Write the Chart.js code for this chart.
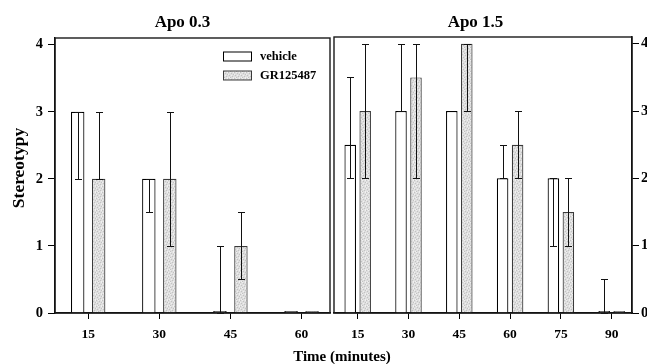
<!DOCTYPE html>
<html>
<head>
<meta charset="utf-8">
<script src="https://cdn.jsdelivr.net/npm/chart.js@4.4.1/dist/chart.umd.min.js"></script>
<style>
    html, body { margin: 0; padding: 0; background: #fff; }
    #wrap { position: relative; width: 647px; height: 364px; overflow: hidden; }
    #wrap canvas { position: absolute; left: 0; top: 0; }
</style>
</head>
<body>
<div id="wrap">
    <canvas id="apoLow" width="647" height="364"></canvas>
    <canvas id="apoHigh" width="647" height="364"></canvas>
</div>
<script>
// DATA
const SERIES = ['vehicle', 'GR125487'];
const Y_TICKS = [0, 1, 2, 3, 4];

// Apo 0.3 panel
const TIMES_LOW = [15, 30, 45, 60];
const lowVehicle      = [3, 2, 0, 0];
const lowVehicleErrLo = [2, 1.5, 0, 0];
const lowVehicleErrHi = [3, 2, 1, 0];
const lowGr      = [2, 2, 1, 0];
const lowGrErrLo = [2, 1, 0.5, 0];
const lowGrErrHi = [3, 3, 1.5, 0];

// Apo 1.5 panel
const TIMES_HIGH = [15, 30, 45, 60, 75, 90];
const highVehicle      = [2.5, 3, 3, 2, 2, 0];
const highVehicleErrLo = [2, 3, 3, 2, 1, 0];
const highVehicleErrHi = [3.5, 4, 3, 2.5, 2, 0.5];
const highGr      = [3, 3.5, 4, 2.5, 1.5, 0];
const highGrErrLo = [2, 2, 3, 2, 1, 0];
const highGrErrHi = [4, 4, 4, 3, 2, 0];

// STYLE
const SERIF = "'Liberation Serif', 'Times New Roman', serif";

// speckled grey fill like the scanned figure
function stipple() {
    const c = document.createElement('canvas');
    c.width = 6; c.height = 6;
    const g = c.getContext('2d');
    g.fillStyle = '#dedede';
    g.fillRect(0, 0, 6, 6);
    g.fillStyle = '#c2c2c2';
    [[0, 0], [3, 1], [5, 2], [1, 3], [4, 4], [2, 5]].forEach(p => g.fillRect(p[0], p[1], 1, 1));
    g.fillStyle = '#f0f0f0';
    [[2, 0], [5, 0], [0, 2], [3, 3], [1, 5], [5, 5]].forEach(p => g.fillRect(p[0], p[1], 1, 1));
    return g.createPattern(c, 'repeat');
}
const GR_FILL = stipple();

// PLUGINS
const errorBars = {
    id: 'errorBars',
    afterDatasetsDraw(chart) {
        const ctx = chart.ctx;
        const y = chart.scales.y;
        ctx.save();
        ctx.strokeStyle = '#111';
        ctx.lineWidth = 1;
        chart.data.datasets.forEach((ds, i) => {
            chart.getDatasetMeta(i).data.forEach((bar, j) => {
                const lo = ds.errLo[j], hi = ds.errHi[j];
                if (lo === hi) return;
                const x = Math.round(bar.x) + 0.5;
                const top = Math.round(y.getPixelForValue(hi)) + 0.5;
                const bot = Math.round(y.getPixelForValue(lo)) + 0.5;
                ctx.beginPath();
                ctx.moveTo(x, top); ctx.lineTo(x, bot);
                ctx.moveTo(x - 3.5, top); ctx.lineTo(x + 3.5, top);
                ctx.moveTo(x - 3.5, bot); ctx.lineTo(x + 3.5, bot);
                ctx.stroke();
            });
        });
        ctx.restore();
    }
};

const panelFrame = {
    id: 'panelFrame',
    afterDatasetsDraw(chart) {
        const a = chart.chartArea, ctx = chart.ctx;
        ctx.save();
        ctx.strokeStyle = '#1a1a1a';
        ctx.lineWidth = 1.4;
        ctx.strokeRect(a.left, a.top, a.right - a.left, a.bottom - a.top);
        ctx.restore();
    }
};

const textItems = {
    id: 'textItems',
    afterDraw(chart, args, opts) {
        const ctx = chart.ctx;
        (opts.items || []).forEach(t => {
            ctx.save();
            ctx.fillStyle = '#000';
            ctx.font = 'bold ' + t.size + 'px ' + SERIF;
            ctx.textAlign = 'center';
            ctx.textBaseline = 'alphabetic';
            ctx.translate(t.x, t.y);
            if (t.rotate) ctx.rotate(t.rotate);
            ctx.fillText(t.text, 0, 0);
            ctx.restore();
        });
    }
};

const innerLegend = {
    id: 'innerLegend',
    afterDraw(chart, args, opts) {
        if (!opts.show) return;
        const ctx = chart.ctx;
        ctx.save();
        ctx.font = 'bold 12.5px ' + SERIF;
        ctx.textBaseline = 'middle';
        ctx.textAlign = 'left';
        chart.data.datasets.forEach((ds, i) => {
            const yy = opts.y + i * opts.rowGap;
            ctx.fillStyle = ds.backgroundColor;
            ctx.fillRect(opts.x, yy - 4.5, 29, 9);
            ctx.strokeStyle = ds.borderColor;
            ctx.lineWidth = 1;
            ctx.strokeRect(opts.x + 0.5, yy - 4.5, 28, 9);
            ctx.fillStyle = '#000';
            ctx.fillText(ds.label, opts.x + 37, yy);
        });
        ctx.restore();
    }
};

function makeDatasets(vehicle, vLo, vHi, gr, gLo, gHi) {
    return [
        {
            label: SERIES[0], data: vehicle, errLo: vLo, errHi: vHi,
            backgroundColor: '#ffffff', borderColor: '#000000', borderWidth: 1.2
        },
        {
            label: SERIES[1], data: gr, errLo: gLo, errHi: gHi,
            backgroundColor: GR_FILL, borderColor: '#3a3a3a', borderWidth: 1.2
        }
    ];
}

function tickFont(size) {
    return { family: SERIF, size: size, weight: 'bold' };
}

function makeChart(id, cfg) {
    return new Chart(document.getElementById(id), {
        type: 'bar',
        data: { labels: cfg.times, datasets: cfg.datasets },
        options: {
            responsive: false,
            animation: false,
            devicePixelRatio: 1,
            layout: { padding: cfg.padding },
            datasets: {
                bar: {
                    categoryPercentage: 0.59,
                    barPercentage: cfg.barPct,
                    minBarLength: 2
                }
            },
            plugins: {
                legend: { display: false },
                tooltip: { enabled: false },
                title: { display: false },
                textItems: { items: cfg.texts },
                innerLegend: cfg.legend
            },
            scales: {
                x: {
                    type: 'linear',
                    min: cfg.xMin,
                    max: cfg.xMax,
                    offset: false,
                    afterBuildTicks: s => { s.ticks = cfg.times.map(v => ({ value: v })); },
                    afterFit: s => { s.height = 51; },
                    grid: { offset: false, drawOnChartArea: false, drawTicks: true, tickLength: 6, color: '#000', lineWidth: 1 },
                    border: { display: true, color: '#000', width: 1.4 },
                    ticks: { color: '#000', font: tickFont(13.5), padding: 7, maxRotation: 0 }
                },
                y: {
                    position: cfg.yPos,
                    min: 0,
                    max: 4.1,
                    afterBuildTicks: s => { s.ticks = Y_TICKS.map(v => ({ value: v })); },
                    afterFit: s => { s.width = cfg.yWidth; },
                    grid: { drawOnChartArea: false, drawTicks: true, tickLength: 7, color: '#000', lineWidth: 1 },
                    border: { display: true, color: '#000', width: 1.4 },
                    ticks: { color: '#000', font: tickFont(14.5), padding: cfg.yPad }
                }
            }
        },
        plugins: [errorBars, panelFrame, textItems, innerLegend]
    });
}

// Apo 0.3
makeChart('apoLow', {
    times: TIMES_LOW,
    datasets: makeDatasets(lowVehicle, lowVehicleErrLo, lowVehicleErrHi, lowGr, lowGrErrLo, lowGrErrHi),
    padding: { left: 0, right: 317, top: 38, bottom: 0 },
    xMin: 8, xMax: 66,
    barPct: 0.64,
    yPos: 'left', yWidth: 55, yPad: 5,
    legend: { show: true, x: 223, y: 56.5, rowGap: 19 },
    texts: [
        { text: 'Apo 0.3', x: 182.5, y: 27, size: 17 },
        { text: 'Stereotypy', x: 24, y: 168, size: 17.5, rotate: -Math.PI / 2 },
        { text: 'Time (minutes)', x: 342, y: 361, size: 15 }
    ]
});

// Apo 1.5
makeChart('apoHigh', {
    times: TIMES_HIGH,
    datasets: makeDatasets(highVehicle, highVehicleErrLo, highVehicleErrHi, highGr, highGrErrLo, highGrErrHi),
    padding: { left: 334, right: 0, top: 37, bottom: 0 },
    xMin: 8, xMax: 96,
    barPct: 0.77,
    yPos: 'right', yWidth: 15, yPad: 2,
    legend: { show: false },
    texts: [
        { text: 'Apo 1.5', x: 475.5, y: 27, size: 17 }
    ]
});
</script>
</body>
</html>
